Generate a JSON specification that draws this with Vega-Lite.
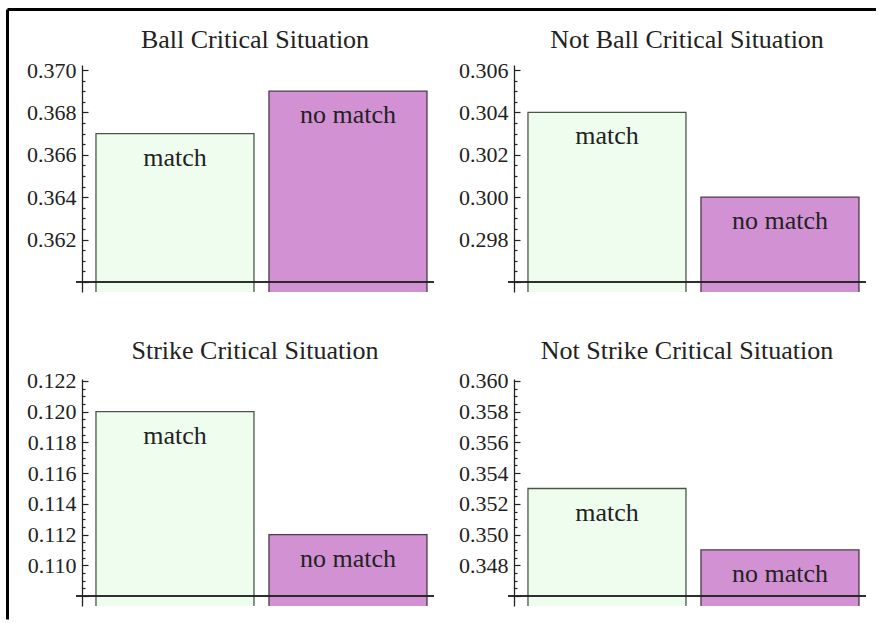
{
  "$schema": "https://vega.github.io/schema/vega-lite/v6.json",
  "padding": {"left": 7, "top": 9, "right": 0, "bottom": 0},
  "background": "white",
  "datasets": {
    "rates": [
      {"panel": "Ball Critical Situation", "outcome": "match", "rate": 0.367},
      {"panel": "Ball Critical Situation", "outcome": "no match", "rate": 0.369},
      {"panel": "Not Ball Critical Situation", "outcome": "match", "rate": 0.304},
      {"panel": "Not Ball Critical Situation", "outcome": "no match", "rate": 0.300},
      {"panel": "Strike Critical Situation", "outcome": "match", "rate": 0.120},
      {"panel": "Strike Critical Situation", "outcome": "no match", "rate": 0.112},
      {"panel": "Not Strike Critical Situation", "outcome": "match", "rate": 0.353},
      {"panel": "Not Strike Critical Situation", "outcome": "no match", "rate": 0.349}
    ]
  },
  "config": {
    "font": "Liberation Serif",
    "view": {"stroke": null},
    "title": {"font": "Liberation Serif", "fontSize": 26, "fontWeight": "normal", "color": "#222", "frame": "group", "anchor": "middle", "offset": 6},
    "axisY": {
      "labelFont": "Liberation Serif", "labelFontSize": 22, "labelColor": "#222",
      "domainColor": "#222", "domainWidth": 1.3, "tickColor": "#222", "tickWidth": 1.2,
      "offset": -6, "labelPadding": 12, "grid": false, "title": null, "format": ".3f",
      "tickSize": {"condition": {"test": "round(datum.value*10000) % 20 == 0", "value": -6}, "value": -3}
    }
  },
  "vconcat": [
    {
      "width": 869, "height": 1,
      "data": {"name": "rates"},
      "mark": {"type": "rule", "opacity": 0},
      "encoding": {"x": {"field": "rate", "type": "quantitative", "axis": {"orient": "top", "domain": true, "domainWidth": 3, "domainColor": "black", "ticks": false, "labels": false, "grid": false, "title": null}}}
    },
    {
      "hconcat": [
        {
          "width": 1, "height": 554,
          "data": {"name": "rates"},
          "mark": {"type": "rule", "opacity": 0},
          "encoding": {"y": {"field": "rate", "type": "quantitative", "scale": {"range": [554, -56]}, "axis": {"domain": true, "domainWidth": 3, "domainColor": "black", "ticks": false, "labels": false, "offset": 0, "grid": false, "title": null}}}
        },
        {
          "title": {"text": " ", "fontSize": 12, "offset": 4},
          "vconcat": [
            {
              "hconcat": [
                {
                  "title": "Ball Critical Situation",
                  "width": 358, "height": 227,
                  "data": {"name": "rates"},
                  "transform": [{"filter": "datum.panel === 'Ball Critical Situation'"}],
                  "encoding": {
                    "x": {"field": "outcome", "type": "nominal", "axis": null, "scale": {"paddingInner": 0.0867, "paddingOuter": 0.078, "align": 0.74}},
                    "y": {"field": "rate", "type": "quantitative", "scale": {"domain": [0.359528, 0.370236], "zero": false, "nice": false},
                      "axis": {"values": [0.36, 0.3605, 0.361, 0.3615, 0.362, 0.3625, 0.363, 0.3635, 0.364, 0.3645, 0.365, 0.3655, 0.366, 0.3665, 0.367, 0.3675, 0.368, 0.3685, 0.369, 0.3695, 0.37],
                        "labelExpr": "(round(datum.value*10000) % 20 == 0 && datum.value > 0.3605) ? datum.label : ''"}}
                  },
                  "layer": [
                    {"mark": {"type": "bar", "clip": true, "strokeWidth": 1.3}, "encoding": {
                      "fill": {"field": "outcome", "type": "nominal", "legend": null, "scale": {"domain": ["match", "no match"], "range": ["#effdef", "#d291d3"]}},
                      "stroke": {"field": "outcome", "type": "nominal", "legend": null, "scale": {"domain": ["match", "no match"], "range": ["#4a564a", "#4a3a4a"]}}
                    }},
                    {"mark": {"type": "text", "baseline": "alphabetic", "dy": 32, "fontSize": 26, "font": "Liberation Serif", "color": "#222"}, "encoding": {"text": {"field": "outcome"}}},
                    {"mark": {"type": "rule", "color": "#222", "strokeWidth": 1.3}, "encoding": {"y": {"datum": 0.36}, "x": null}}
                  ]
                },
                {
                  "title": "Not Ball Critical Situation",
                  "width": 358, "height": 227,
                  "data": {"name": "rates"},
                  "transform": [{"filter": "datum.panel === 'Not Ball Critical Situation'"}],
                  "encoding": {
                    "x": {"field": "outcome", "type": "nominal", "axis": null, "scale": {"paddingInner": 0.0867, "paddingOuter": 0.078, "align": 0.74}},
                    "y": {"field": "rate", "type": "quantitative", "scale": {"domain": [0.295528, 0.306236], "zero": false, "nice": false},
                      "axis": {"values": [0.296, 0.2965, 0.297, 0.2975, 0.298, 0.2985, 0.299, 0.2995, 0.3, 0.3005, 0.301, 0.3015, 0.302, 0.3025, 0.303, 0.3035, 0.304, 0.3045, 0.305, 0.3055, 0.306],
                        "labelExpr": "(round(datum.value*10000) % 20 == 0 && datum.value > 0.2965) ? datum.label : ''"}}
                  },
                  "layer": [
                    {"mark": {"type": "bar", "clip": true, "strokeWidth": 1.3}, "encoding": {
                      "fill": {"field": "outcome", "type": "nominal", "legend": null, "scale": {"domain": ["match", "no match"], "range": ["#effdef", "#d291d3"]}},
                      "stroke": {"field": "outcome", "type": "nominal", "legend": null, "scale": {"domain": ["match", "no match"], "range": ["#4a564a", "#4a3a4a"]}}
                    }},
                    {"mark": {"type": "text", "baseline": "alphabetic", "dy": 32, "fontSize": 26, "font": "Liberation Serif", "color": "#222"}, "encoding": {"text": {"field": "outcome"}}},
                    {"mark": {"type": "rule", "color": "#222", "strokeWidth": 1.3}, "encoding": {"y": {"datum": 0.296}, "x": null}}
                  ]
                }
              ],
              "spacing": 23
            },
            {
              "hconcat": [
                {
                  "title": "Strike Critical Situation",
                  "width": 358, "height": 227,
                  "data": {"name": "rates"},
                  "transform": [{"filter": "datum.panel === 'Strike Critical Situation'"}],
                  "encoding": {
                    "x": {"field": "outcome", "type": "nominal", "axis": null, "scale": {"paddingInner": 0.0867, "paddingOuter": 0.078, "align": 0.74}},
                    "y": {"field": "rate", "type": "quantitative", "scale": {"domain": [0.10735, 0.12213], "zero": false, "nice": false},
                      "axis": {"values": [0.108, 0.1085, 0.109, 0.1095, 0.11, 0.1105, 0.111, 0.1115, 0.112, 0.1125, 0.113, 0.1135, 0.114, 0.1145, 0.115, 0.1155, 0.116, 0.1165, 0.117, 0.1175, 0.118, 0.1185, 0.119, 0.1195, 0.12, 0.1205, 0.121, 0.1215, 0.122],
                        "labelExpr": "(round(datum.value*10000) % 20 == 0 && datum.value > 0.1085) ? datum.label : ''"}}
                  },
                  "layer": [
                    {"mark": {"type": "bar", "clip": true, "strokeWidth": 1.3}, "encoding": {
                      "fill": {"field": "outcome", "type": "nominal", "legend": null, "scale": {"domain": ["match", "no match"], "range": ["#effdef", "#d291d3"]}},
                      "stroke": {"field": "outcome", "type": "nominal", "legend": null, "scale": {"domain": ["match", "no match"], "range": ["#4a564a", "#4a3a4a"]}}
                    }},
                    {"mark": {"type": "text", "baseline": "alphabetic", "dy": 32, "fontSize": 26, "font": "Liberation Serif", "color": "#222"}, "encoding": {"text": {"field": "outcome"}}},
                    {"mark": {"type": "rule", "color": "#222", "strokeWidth": 1.3}, "encoding": {"y": {"datum": 0.108}, "x": null}}
                  ]
                },
                {
                  "title": "Not Strike Critical Situation",
                  "width": 358, "height": 227,
                  "data": {"name": "rates"},
                  "transform": [{"filter": "datum.panel === 'Not Strike Critical Situation'"}],
                  "encoding": {
                    "x": {"field": "outcome", "type": "nominal", "axis": null, "scale": {"paddingInner": 0.0867, "paddingOuter": 0.078, "align": 0.74}},
                    "y": {"field": "rate", "type": "quantitative", "scale": {"domain": [0.34535, 0.36013], "zero": false, "nice": false},
                      "axis": {"values": [0.346, 0.3465, 0.347, 0.3475, 0.348, 0.3485, 0.349, 0.3495, 0.35, 0.3505, 0.351, 0.3515, 0.352, 0.3525, 0.353, 0.3535, 0.354, 0.3545, 0.355, 0.3555, 0.356, 0.3565, 0.357, 0.3575, 0.358, 0.3585, 0.359, 0.3595, 0.36],
                        "labelExpr": "(round(datum.value*10000) % 20 == 0 && datum.value > 0.3465) ? datum.label : ''"}}
                  },
                  "layer": [
                    {"mark": {"type": "bar", "clip": true, "strokeWidth": 1.3}, "encoding": {
                      "fill": {"field": "outcome", "type": "nominal", "legend": null, "scale": {"domain": ["match", "no match"], "range": ["#effdef", "#d291d3"]}},
                      "stroke": {"field": "outcome", "type": "nominal", "legend": null, "scale": {"domain": ["match", "no match"], "range": ["#4a564a", "#4a3a4a"]}}
                    }},
                    {"mark": {"type": "text", "baseline": "alphabetic", "dy": 32, "fontSize": 26, "font": "Liberation Serif", "color": "#222"}, "encoding": {"text": {"field": "outcome"}}},
                    {"mark": {"type": "rule", "color": "#222", "strokeWidth": 1.3}, "encoding": {"y": {"datum": 0.346}, "x": null}}
                  ]
                }
              ],
              "spacing": 23
            }
          ],
          "spacing": 45
        }
      ],
      "spacing": 18
    }
  ],
  "spacing": 0
}
